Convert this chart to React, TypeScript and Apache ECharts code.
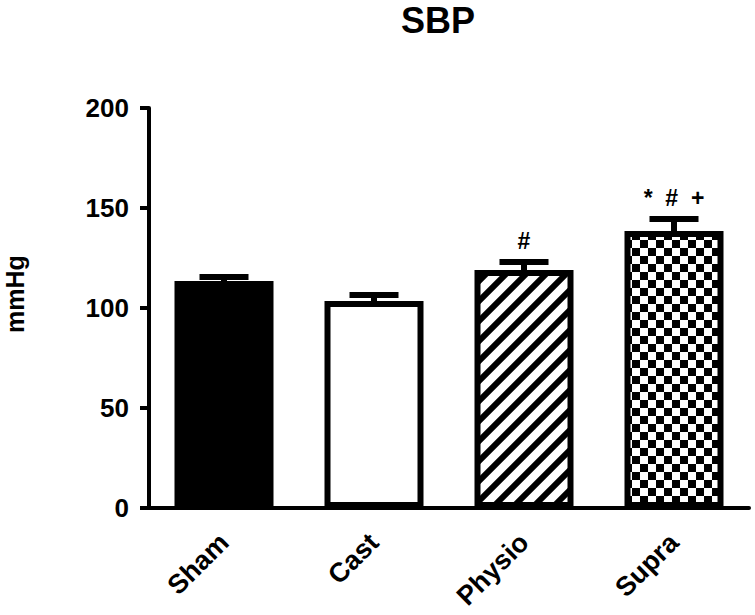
import React, { useEffect, useRef } from "react";
import * as echarts from "echarts";

const categories = ["Sham", "Cast", "Physio", "Supra"];
const means = [113.5, 103.5, 119, 138.5];
const sems = [2, 3, 4, 6];
const annotations = ["", "", "#", "*  #  +"];
const yTicks = { min: 0, max: 200, interval: 50 };

const FONT = 'Arial, "Liberation Sans", Helvetica, sans-serif';

function makeStripes(): HTMLCanvasElement {
  const c = document.createElement("canvas");
  c.width = 20;
  c.height = 20;
  const ctx = c.getContext("2d")!;
  ctx.fillStyle = "#fff";
  ctx.fillRect(0, 0, 20, 20);
  ctx.strokeStyle = "#000";
  ctx.lineWidth = 6;
  ctx.lineCap = "square";
  const seg = (x1: number, y1: number, x2: number, y2: number) => {
    ctx.beginPath();
    ctx.moveTo(x1, y1);
    ctx.lineTo(x2, y2);
    ctx.stroke();
  };
  seg(-5, 25, 25, -5);
  seg(-10, 10, 10, -10);
  seg(10, 30, 30, 10);
  return c;
}

function makeChecker(): HTMLCanvasElement {
  const c = document.createElement("canvas");
  c.width = 16;
  c.height = 16;
  const ctx = c.getContext("2d")!;
  ctx.fillStyle = "#fff";
  ctx.fillRect(0, 0, 16, 16);
  ctx.fillStyle = "#000";
  ctx.fillRect(0, 0, 8, 8);
  ctx.fillRect(8, 8, 8, 8);
  return c;
}

export default function App() {
  const ref = useRef<HTMLDivElement>(null);
  useEffect(() => {
    if (!ref.current) return;
    const chart = echarts.init(ref.current, undefined, { renderer: "svg" });
    const stripes = makeStripes();
    const checker = makeChecker();
    const fills: any[] = [
      "#000000",
      "#ffffff",
      { image: stripes, repeat: "repeat", imageWidth: 20, imageHeight: 20 },
      { image: checker, repeat: "repeat", imageWidth: 16, imageHeight: 16 },
    ];
    const option: any = {
      animation: false,
      backgroundColor: "#ffffff",
      title: {
        text: "SBP",
        left: 438,
        top: 2,
        textAlign: "center",
        padding: 0,
        textStyle: { fontFamily: FONT, fontSize: 36, fontWeight: "bold", color: "#000", lineHeight: 36 },
      },
      graphic: [
        {
          type: "text",
          x: 15,
          y: 294,
          rotation: Math.PI / 2,
          style: {
            text: "mmHg",
            align: "center",
            verticalAlign: "middle",
            font: `bold 25px ${FONT}`,
            fill: "#000",
          },
        },
      ],
      grid: { left: 149, right: 6, top: 108, bottom: 107, containLabel: false },
      xAxis: {
        type: "category",
        data: categories,
        axisLine: { lineStyle: { color: "#000", width: 4 } },
        axisTick: { alignWithLabel: true, length: 12, lineStyle: { color: "#000", width: 4 } },
        axisLabel: {
          rotate: 45,
          margin: 30,
          color: "#000",
          fontFamily: FONT,
          fontSize: 27,
          fontWeight: "bold",
        },
      },
      yAxis: {
        type: "value",
        min: yTicks.min,
        max: yTicks.max,
        interval: yTicks.interval,
        splitLine: { show: false },
        axisLine: { show: true, lineStyle: { color: "#000", width: 4 } },
        axisTick: { show: true, length: 9, lineStyle: { color: "#000", width: 4 } },
        axisLabel: {
          margin: 20,
          color: "#000",
          fontFamily: FONT,
          fontSize: 26,
          fontWeight: "bold",
        },
      },
      series: [
        {
          type: "bar",
          barWidth: 99,
          data: means.map((v, i) => ({
            value: v,
            itemStyle: { color: fills[i], borderColor: "#000", borderWidth: 6 },
          })),
          z: 2,
        },
        {
          type: "custom",
          z: 3,
          clip: false,
          data: means.map((v, i) => [i, v, sems[i]]),
          renderItem: (params: any, api: any) => {
            const i = api.value(0);
            const m = api.value(1);
            const e = api.value(2);
            const base = api.coord([i, m]);
            const top = api.coord([i, m + e]);
            const half = 24.5;
            const children: any[] = [
              {
                type: "line",
                shape: { x1: base[0], y1: base[1], x2: top[0], y2: top[1] },
                style: { stroke: "#000", lineWidth: 6 },
              },
              {
                type: "line",
                shape: { x1: top[0] - half, y1: top[1], x2: top[0] + half, y2: top[1] },
                style: { stroke: "#000", lineWidth: 6 },
              },
            ];
            const ann = annotations[params.dataIndex];
            if (ann) {
              children.push({
                type: "text",
                x: top[0],
                y: top[1] - 10,
                style: {
                  text: ann,
                  align: "center",
                  verticalAlign: "bottom",
                  font: `bold 23px ${FONT}`,
                  fill: "#000",
                },
              });
            }
            return { type: "group", children };
          },
        },
      ],
    };
    chart.setOption(option);
    return () => chart.dispose();
  }, []);
  return (
    <div
      ref={ref}
      style={{ position: "absolute", left: 0, top: 0, width: 755, height: 615 }}
    />
  );
}
